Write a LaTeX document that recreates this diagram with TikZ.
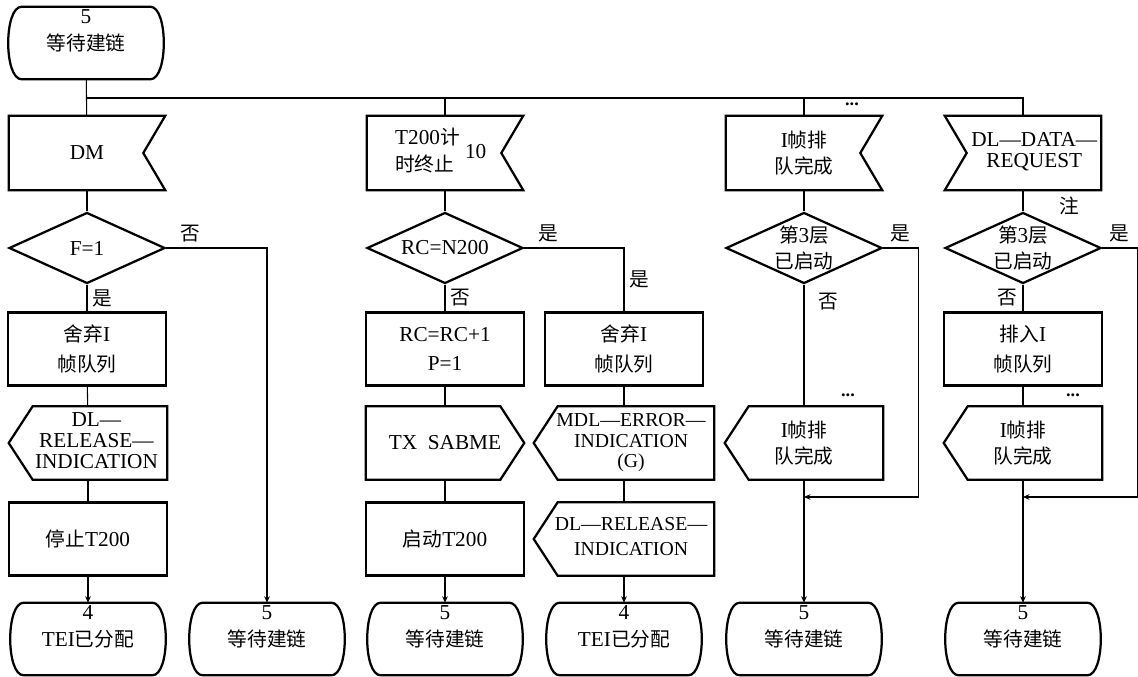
\documentclass[tikz,border=0pt]{standalone}
\usepackage{fontspec}
\setmainfont[Scale=1.08]{Liberation Serif}
\newfontfamily\cjk{Noto Sans CJK SC}
\newcommand{\zh}[1]{{\cjk #1}}
\usetikzlibrary{shapes.geometric,arrows.meta,positioning}

\tikzset{
  symline/.style={line width=1.6pt, line join=miter},
  box/.style={rectangle, align=center, inner sep=2pt},
  task/.style={box, draw, symline, minimum width=3.95cm, minimum height=1.825cm},
  sdlstate/.style={box, inner sep=0pt, minimum width=3.9cm, minimum height=1.8cm},
  num/.style={anchor=north, inner sep=1pt, yshift=-1pt},
  inbox/.style={box, minimum width=3.9cm, minimum height=1.85cm},
  outbox/.style={box, minimum width=3.95cm, minimum height=1.825cm},
  wide/.style={minimum width=4.5cm, inner xsep=0pt, font=\fontsize{13}{14.5}\selectfont},
  decision/.style={draw, symline, diamond, aspect=2.2, align=center, inner sep=0pt,
    minimum width=3.9cm, minimum height=1.775cm},
  flow/.style={line width=0.75pt},
  toend/.style={flow, -{Stealth[length=1.6mm,width=1.4mm]}},
  dots/.style={inner sep=0pt, font=\bfseries\fontsize{12}{12}\selectfont},
}

\begin{document}
\begin{tikzpicture}[x=0.025cm, y=-0.025cm, font=\fontsize{14}{15}\selectfont]
  \useasboundingbox (0,0) rectangle (1138,677);

  % states
  \node[sdlstate, label={[num]north:5}] (s0) at (86,43) {\zh{等待建链}};
  \node[sdlstate, label={[num]north:4}] (b1) at (88,639) {TEI\zh{已分配}};
  \node[sdlstate, label={[num]north:5}] (b2) at (267,639) {\zh{等待建链}};
  \node[sdlstate, label={[num]north:5}] (b3) at (445,639) {\zh{等待建链}};
  \node[sdlstate, label={[num]north:4}] (b4) at (624,639) {TEI\zh{已分配}};
  \node[sdlstate, label={[num]north:5}] (b5) at (804,639) {\zh{等待建链}};
  \node[sdlstate, label={[num]north:5}] (b6) at (1023,639) {\zh{等待建链}};
  \foreach \n in {s0,b1,b2,b3,b4,b5,b6}
    \draw[symline] ([xshift=3.5mm]\n.north west)
      .. controls ([xshift=-1mm]\n.north west) and ([xshift=-1mm]\n.south west) .. ([xshift=3.5mm]\n.south west)
      -- ([xshift=-3.5mm]\n.south east)
      .. controls ([xshift=1mm]\n.south east) and ([xshift=1mm]\n.north east) .. ([xshift=-3.5mm]\n.north east)
      -- cycle;

  % inputs
  \node[inbox] (in1) at (87,153) {DM};
  \node[inbox] (in3) at (445,153) {\begin{tabular}{@{}l@{}}T200\zh{计}\\[3pt]\zh{时终止}\end{tabular}\ 10\hspace*{6pt}};
  \node[inbox] (in5) at (804,153) {I\zh{帧排}\\[3pt]\zh{队完成}};
  \node[inbox] (in6) at (1023,153) {\hspace*{16pt}\begin{tabular}{@{}c@{}}DL—DATA—\\REQUEST\end{tabular}};
  \foreach \n in {in1,in3,in5}
    \draw[symline] (\n.north west) -- (\n.north east) -- ([xshift=-5.5mm]\n.east)
      -- (\n.south east) -- (\n.south west) -- cycle;
  \draw[symline] (in6.north west) -- (in6.north east) -- (in6.south east)
    -- (in6.south west) -- ([xshift=5.5mm]in6.west) -- cycle;

  % decisions
  \node[decision] (d1) at (87,248) {F=1};
  \node[decision] (d3) at (445,248) {RC=N200};
  \node[decision] (d5) at (804,248) {\zh{第}3\zh{层}\\[3pt]\zh{已启动}};
  \node[decision] (d6) at (1023,248) {\zh{第}3\zh{层}\\[3pt]\zh{已启动}};

  % tasks
  \node[task] (t1) at (87,349) {\zh{舍弃}I\\[6pt]\zh{帧队列}};
  \node[task] (t3) at (445,349) {RC=RC+1\\[6pt]P=1};
  \node[task] (t4) at (624,349) {\zh{舍弃}I\\[6pt]\zh{帧队列}};
  \node[task] (t6) at (1023,349) {\zh{排入}I\\[6pt]\zh{帧队列}};

  % outputs
  \node[outbox] (o1) at (88,443) {\hspace*{12pt}\begin{tabular}{@{}c@{}}DL—\\RELEASE—\\INDICATION\end{tabular}};
  \node[outbox] (o3) at (445,443) {TX\enspace SABME};
  \node[outbox, wide] (o4) at (624,443) {\hspace*{10pt}\begin{tabular}{@{}c@{}}MDL—ERROR—\\INDICATION\\(G)\end{tabular}};
  \node[outbox] (o5) at (804,443) {I\zh{帧排}\\[3pt]\zh{队完成}};
  \node[outbox] (o6) at (1023,443) {I\zh{帧排}\\[3pt]\zh{队完成}};

  \node[task] (p1) at (88,539) {\zh{停止}T200};
  \node[task] (p3) at (445,539) {\zh{启动}T200};
  \node[outbox, wide] (p4) at (624,539) {\hspace*{10pt}\begin{tabular}{@{}c@{}}DL—RELEASE—\\[3pt]INDICATION\end{tabular}};
  \foreach \n in {o1,o4,o5,o6,p4}
    \draw[symline] ([xshift=6mm]\n.north west) -- (\n.north east) -- (\n.south east)
      -- ([xshift=6mm]\n.south west) -- (\n.west) -- cycle;
  \draw[symline] (o3.north west) -- ([xshift=-6mm]o3.north east) -- (o3.east)
    -- ([xshift=-6mm]o3.south east) -- (o3.south west) -- cycle;

  \node[dots] (dt1) at (852,104) {...};
  \node[dots] (dt2) at (848,395) {...};
  \node[dots] (dt3) at (1073,395) {...};

  \coordinate (bus) at (87,98);
  \coordinate (j5) at (804,497);
  \coordinate (j6) at (1023,497);

  % connectors
  \draw[flow] (s0) -- (in1);
  \draw[flow] (bus) -| (in6);
  \draw[flow] (in3) |- (bus);
  \draw[flow] (in5) |- (bus);

  \draw[flow] (in1) -- (d1);
  \draw[flow] (d1) -- node[right] (y1) {\zh{是}} (t1);
  \draw[toend] (d1) -| node[pos=0.12, above] (n1) {\zh{否}} (b2);
  \draw[flow] (t1) -- (o1);
  \draw[flow] (o1) -- (p1);
  \draw[toend] (p1) -- (b1);

  \draw[flow] (in3) -- (d3);
  \draw[flow] (d3) -- node[right] (n3) {\zh{否}} (t3);
  \draw[flow] (d3) -| node[pos=0.12, above] (y3) {\zh{是}} node[pos=0.75, right] (y4) {\zh{是}} (t4);
  \draw[flow] (t3) -- (o3);
  \draw[flow] (o3) -- (p3);
  \draw[toend] (p3) -- (b3);
  \draw[flow] (t4) -- (o4);
  \draw[flow] (o4) -- (p4);
  \draw[toend] (p4) -- (b4);

  \draw[flow] (in5) -- (d5);
  \draw[flow] (d5) -- node[pos=0.14, right=6pt] (n5) {\zh{否}} (o5);
  \draw[toend] (d5.east) -- node[above] (y5) {\zh{是}} ++(35,0) |- (j5);
  \draw[toend] (o5) -- (b5);

  \draw[flow] (in6) -- node[pos=0.75, right=22pt] (c6) {\zh{注}} (d6);
  \draw[flow] (d6) -- node[left] (n6) {\zh{否}} (t6);
  \draw[toend] (d6.east) -- node[above] (y6) {\zh{是}} ++(35,0) |- (j6);
  \draw[flow] (t6) -- (o6);
  \draw[toend] (o6) -- (b6);
\end{tikzpicture}
\end{document}
